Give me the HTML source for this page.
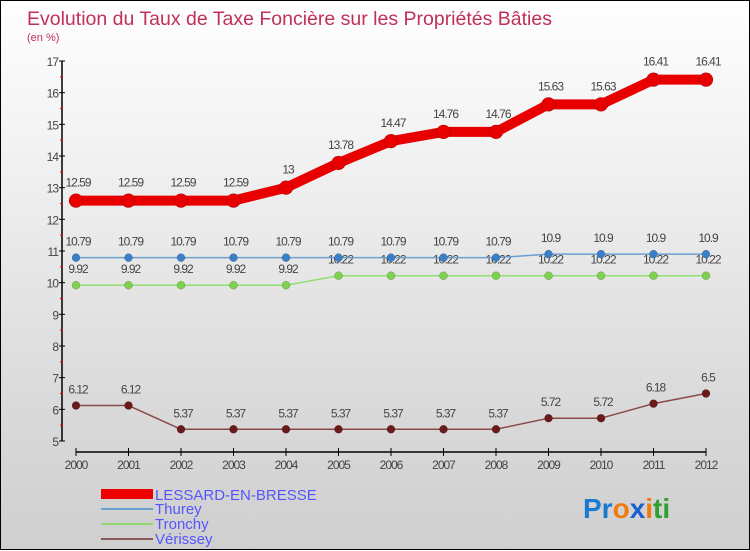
<!DOCTYPE html>
<html><head><meta charset="utf-8">
<style>
html,body{margin:0;padding:0}
body{width:750px;height:550px;overflow:hidden;font-family:"Liberation Sans","DejaVu Sans",sans-serif}
#wrap{position:relative;width:748px;height:548px;border:1px solid #000;background:linear-gradient(#fefefe,#f3f3f3 25%,#d9d9d9 75%,#cfcfcf)}
svg{position:absolute;left:0;top:0}
text{font-family:"Liberation Sans",sans-serif}
</style></head><body>
<div id="wrap">
<svg id="chart" width="750" height="550">
<text x="26" y="24" font-size="19.5" fill="#c0305a">Evolution du Taux de Taxe Foncière sur les Propriétés Bâties</text>
<text x="26" y="40" font-size="11" fill="#c0305a">(en %)</text>
<g id="axes"></g><g id="series"></g>
<g>
<rect x="100" y="488" width="52" height="10" fill="#e00"/>
<text x="154" y="499" font-size="15" fill="#5555ff">LESSARD-EN-BRESSE</text>
<rect x="100" y="507" width="52" height="2" fill="#6a9fcf"/>
<text x="154" y="513" font-size="15" fill="#5555ff">Thurey</text>
<rect x="100" y="522" width="52" height="2" fill="#8fd870"/>
<text x="154" y="528" font-size="15" fill="#5555ff">Tronchy</text>
<rect x="100" y="537" width="52" height="2" fill="#8b5a5a"/>
<text x="154" y="543" font-size="15" fill="#5555ff">Vérissey</text>
</g>
<text x="582" y="517" font-size="28" font-weight="bold"><tspan fill="#1a7ad0">Pr</tspan><tspan fill="#f07a10">o</tspan><tspan fill="#1a5fd0">x</tspan><tspan fill="#f07a10">i</tspan><tspan fill="#30a030">ti</tspan></text>
</svg>
</div>
<script>
const years=[2000,2001,2002,2003,2004,2005,2006,2007,2008,2009,2010,2011,2012];
const lessard=[12.59,12.59,12.59,12.59,13,13.78,14.47,14.76,14.76,15.63,15.63,16.41,16.41];
const thurey=[10.79,10.79,10.79,10.79,10.79,10.79,10.79,10.79,10.79,10.9,10.9,10.9,10.9];
const tronchy=[9.92,9.92,9.92,9.92,9.92,10.22,10.22,10.22,10.22,10.22,10.22,10.22,10.22];
const verissey=[6.12,6.12,5.37,5.37,5.37,5.37,5.37,5.37,5.37,5.72,5.72,6.18,6.5];
const yTicks=[5,6,7,8,9,10,11,12,13,14,15,16,17];
const NS='http://www.w3.org/2000/svg';
function X(i){return 75+i*(630/(years.length-1));}
function Y(v){return 440-(v-5)*(380/12);}
function mk(tag,attrs,parent){const e=document.createElementNS(NS,tag);for(const k in attrs)e.setAttribute(k,attrs[k]);parent.appendChild(e);return e;}
const ax=document.getElementById('axes');
const yl=mk('line',{x1:61,y1:Y(17),x2:61,y2:Y(5),stroke:'#000','stroke-width':1.5},ax);


yTicks.forEach(v=>{
 mk('line',{x1:58,y1:Y(v),x2:64,y2:Y(v),stroke:'#000'},ax);
 if(v<17)mk('line',{x1:59,y1:Y(v+0.5),x2:62,y2:Y(v+0.5),stroke:'#e00'},ax);
 const t=mk('text',{x:57,y:Y(v)+5,'font-size':12,fill:'#444','text-anchor':'end','letter-spacing':'-1'},ax);
 t.textContent=v;
 
 
});
const xl=mk('line',{x1:X(0),y1:451,x2:X(years.length-1),y2:451,stroke:'#000','stroke-width':1.5},ax);


years.forEach((yr,i)=>{
 mk('line',{x1:X(i),y1:447,x2:X(i),y2:455,stroke:'#000'},ax);
 const t=mk('text',{x:X(i),y:468,'font-size':12,fill:'#444','text-anchor':'middle','letter-spacing':'-1'},ax);
 t.textContent=yr;
 
 
});
const sg=document.getElementById('series');
function series(vals,name,color,lw,r,dot,dy){
 const g=mk('g',{},sg);
 
 
 const pts=vals.map((v,i)=>X(i)+','+Y(v)).join(' ');
 const pl=mk('polyline',{points:pts,fill:'none',stroke:color,'stroke-width':lw,'stroke-linejoin':'round'},g);
 
 
 vals.forEach((v,i)=>{
  const c=mk('circle',{cx:X(i),cy:Y(v),r:r,fill:dot,stroke:'rgba(0,0,0,0.3)','stroke-width':0.5},g);
  
  
  const t=mk('text',{x:X(i)+2,y:Y(v)+dy,'font-size':12,fill:'#444','text-anchor':'middle','letter-spacing':'-1'},g);
  t.textContent=v;
  
  
 });
}
series(verissey,'verissey','#8b4a4a',1.5,4,'#6a1a1a',-12);
series(tronchy,'tronchy','#90e070',1.5,4,'#80d050',-12);
series(thurey,'thurey','#6a9fcf',1.5,4,'#3a80c8',-12);
series(lessard,'lessard','#e80000',10,7,'#e80000',-14);
</script>
</body></html>
